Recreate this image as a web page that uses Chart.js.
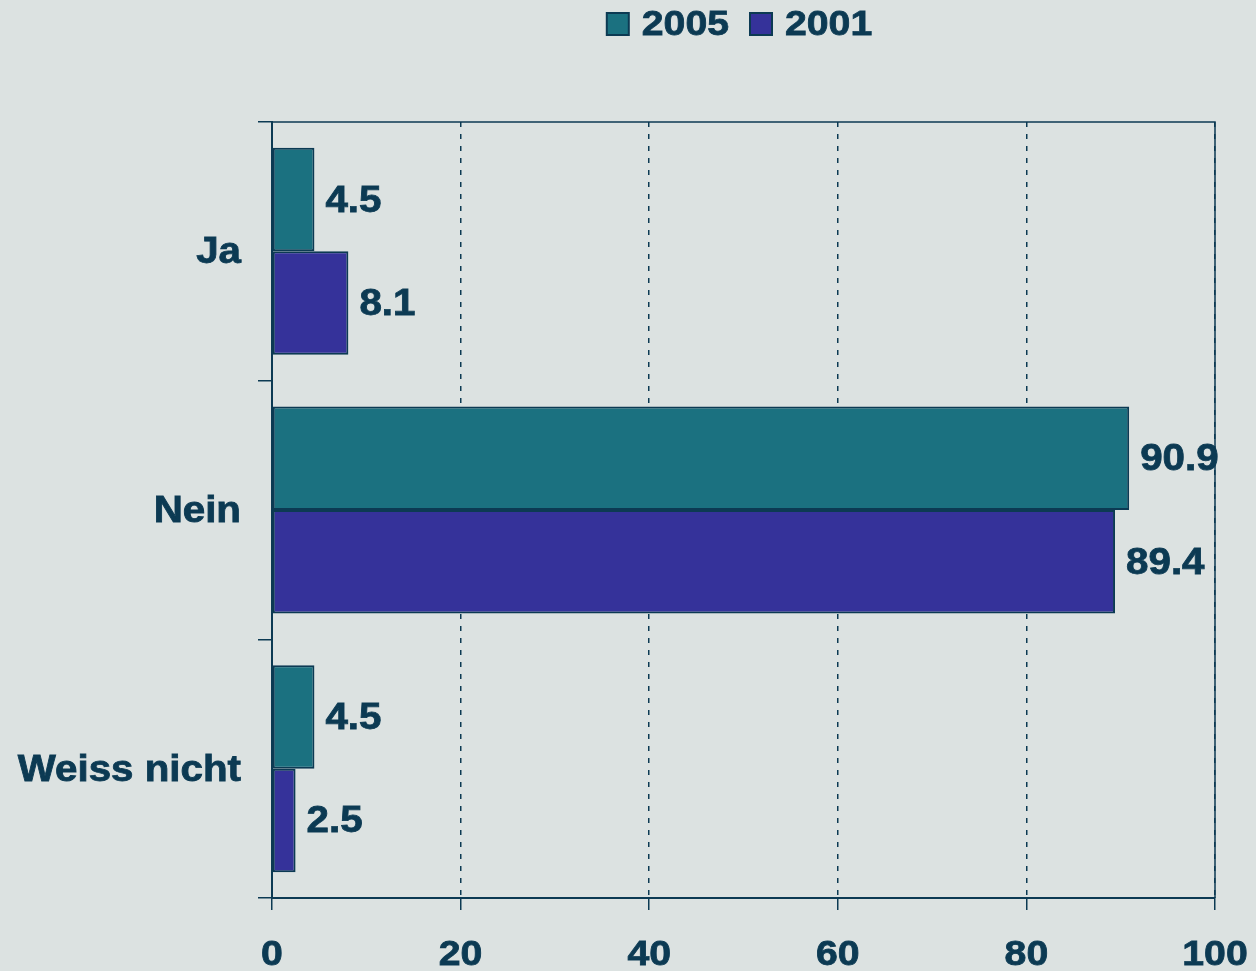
<!DOCTYPE html>
<html>
<head>
<meta charset="utf-8">
<script src="https://cdn.jsdelivr.net/npm/chart.js@4.4.1/dist/chart.umd.min.js"></script>
<style>
    html, body { margin: 0; padding: 0; background: #dce2e1; }
    #wrap { width: 1256px; height: 971px; position: relative; }
</style>
</head>
<body>
<div id="wrap"><canvas id="chart"></canvas></div>
<script>
const categories = ['Ja', 'Nein', 'Weiss nicht'];
const seriesNames = ['2005', '2001'];
const values2005 = [4.5, 90.9, 4.5];
const values2001 = [8.1, 89.4, 2.5];
const xTicks = [0, 20, 40, 60, 80, 100];

const ink = '#0c3a53';
const fontFamily = '"Liberation Sans", Arial, sans-serif';
const stretch = 1.12; // Schrift im Original ist etwas breiter
const colors = ['#1b7180', '#35329a'];

function drawText(ctx, text, x, y, align, size) {
    ctx.save();
    ctx.font = 'bold ' + size + 'px ' + fontFamily;
    const w = ctx.measureText(text).width * stretch;
    const left = align === 'left' ? x : align === 'right' ? x - w : x - w / 2;
    ctx.translate(left, y);
    ctx.scale(stretch, 1);
    ctx.textAlign = 'left';
    ctx.textBaseline = 'middle';
    ctx.fillStyle = ink;
    ctx.strokeStyle = ink;
    ctx.lineWidth = 0.8;
    ctx.fillText(text, 0, 0);
    ctx.strokeText(text, 0, 0);
    ctx.restore();
    return w;
}

// Achsenbeschriftung, Werte, Legende und Rahmen selbst zeichnen
const extras = {
    id: 'extras',
    afterDatasetsDraw(chart) {
        const ctx = chart.ctx;
        const area = chart.chartArea;
        const xs = chart.scales.x;
        const ys = chart.scales.y;
        ctx.save();
        ctx.strokeStyle = ink;
        ctx.lineWidth = 1.5;
        ctx.beginPath();
        ctx.moveTo(area.left, area.top);
        ctx.lineTo(area.right, area.top);
        ctx.lineTo(area.right, area.bottom);
        ctx.stroke();
        ctx.restore();

        categories.forEach((c, i) => {
            drawText(ctx, c, 241, ys.getPixelForValue(i) + 2, 'right', 36);
        });
        xTicks.forEach(v => {
            drawText(ctx, String(v), xs.getPixelForValue(v), 955, 'center', 35);
        });

        chart.data.datasets.forEach((ds, i) => {
            chart.getDatasetMeta(i).data.forEach((bar, j) => {
                drawText(ctx, ds.data[j].toFixed(1), bar.x + 11, bar.y + 2, 'left', 36);
            });
        });

        // Legende
        ctx.save();
        ctx.font = 'bold 35px ' + fontFamily;
        const box = 22, gap = 13, spacing = 21;
        const widths = seriesNames.map(n => ctx.measureText(n).width * stretch);
        ctx.restore();
        let total = 0;
        widths.forEach((w, i) => { total += box + gap + w + (i ? spacing : 0); });
        let x = (area.left + area.right) / 2 - total / 2 - 4;
        const cy = 24;
        seriesNames.forEach((n, i) => {
            ctx.save();
            ctx.fillStyle = colors[i];
            ctx.fillRect(x, cy - box / 2, box, box);
            ctx.strokeStyle = ink;
            ctx.lineWidth = 2;
            ctx.strokeRect(x, cy - box / 2, box, box);
            ctx.restore();
            drawText(ctx, n, x + box + gap, cy + 1, 'left', 35);
            x += box + gap + widths[i] + spacing;
        });
    }
};

new Chart(document.getElementById('chart'), {
    type: 'bar',
    data: {
        labels: categories,
        datasets: [{
            label: seriesNames[0],
            data: values2005,
            backgroundColor: colors[0],
            borderColor: ink,
            borderWidth: 2,
            borderSkipped: false,
            barPercentage: 1,
            categoryPercentage: 0.8
        }, {
            label: seriesNames[1],
            data: values2001,
            backgroundColor: colors[1],
            borderColor: ink,
            borderWidth: 2,
            borderSkipped: false,
            barPercentage: 1,
            categoryPercentage: 0.8
        }]
    },
    plugins: [extras],
    options: {
        indexAxis: 'y',
        responsive: true,
        maintainAspectRatio: false,
        animation: false,
        layout: { padding: { top: 122, right: 41, left: 0, bottom: 0 } },
        plugins: {
            legend: { display: false },
            tooltip: { enabled: false }
        },
        scales: {
            x: {
                min: 0,
                max: 100,
                afterBuildTicks: scale => { scale.ticks = xTicks.map(v => ({ value: v })); },
                afterFit: scale => { scale.height = 73; },
                grid: {
                    color: ink,
                    lineWidth: 1.5,
                    tickLength: 12,
                    tickColor: ink
                },
                border: { color: ink, width: 2, dash: [5, 7] },
                ticks: { display: false }
            },
            y: {
                afterFit: scale => { scale.width = 272; },
                grid: {
                    drawOnChartArea: false,
                    color: ink,
                    lineWidth: 1.5,
                    tickLength: 14
                },
                border: { color: ink, width: 2 },
                ticks: { display: false }
            }
        }
    }
});
</script>
</body>
</html>
